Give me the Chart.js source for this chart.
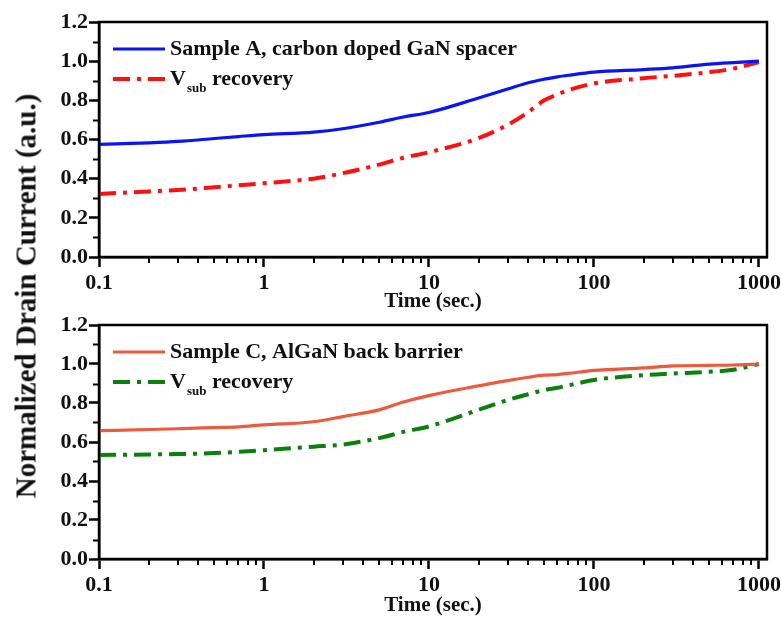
<!DOCTYPE html>
<html><head><meta charset="utf-8">
<script src="https://cdn.jsdelivr.net/npm/chart.js@4/dist/chart.umd.min.js"></script>
<style>
html,body{margin:0;padding:0;background:#fff;}
#wrap{position:relative;width:781px;height:619px;background:#fff;overflow:hidden;}
canvas{position:absolute;left:0;}
#ytitle{position:absolute;left:26px;top:296px;transform:translate(-50%,-50%) rotate(-90deg);font:bold 29px "Liberation Serif",serif;white-space:nowrap;color:#111;}
</style></head><body>
<div id="wrap">
<canvas id="c1" width="781" height="312" style="top:0"></canvas>
<canvas id="c2" width="781" height="307" style="top:312px"></canvas>
<div id="ytitle">Normalized Drain Current (a.u.)</div>
</div>
<script>
// ---- data ----
const time     = [0.1, 0.2, 0.3, 0.5, 0.7, 1, 2, 3, 5, 7, 10, 20, 30, 40, 50, 60, 70, 100, 200, 300, 500, 700, 1000];
const sampleA  = [0.575,0.583,0.590,0.605,0.615,0.625,0.638,0.655,0.688,0.715,0.738,0.812,0.858,0.890,0.908,0.920,0.928,0.944,0.957,0.966,0.985,0.993,1.000];
const vsubA    = [0.322,0.335,0.342,0.356,0.366,0.377,0.400,0.428,0.472,0.507,0.535,0.607,0.675,0.740,0.800,0.830,0.852,0.886,0.913,0.925,0.944,0.962,0.995];
const sampleC  = [0.658,0.664,0.668,0.674,0.678,0.688,0.704,0.730,0.765,0.805,0.838,0.888,0.915,0.932,0.943,0.946,0.952,0.967,0.980,0.990,0.993,0.995,1.000];
const vsubC    = [0.533,0.536,0.538,0.543,0.550,0.558,0.576,0.587,0.620,0.652,0.680,0.765,0.815,0.845,0.866,0.878,0.890,0.918,0.943,0.951,0.960,0.970,1.000];
const xMajorTicks = [0.1, 1, 10, 100, 1000];
const xTickLabels = ['0.1', '1', '10', '100', '1000'];
const yTickLabels = ['0.0', '0.2', '0.4', '0.6', '0.8', '1.0', '1.2'];
const namesTop    = ['Sample A, carbon doped GaN spacer', 'V_sub recovery'];
const namesBottom = ['Sample C, AlGaN back barrier', 'V_sub recovery'];
const xTitle = 'Time (sec.)';

const FONT = '"Liberation Serif", "Times New Roman", serif';

const pts = arr => arr.map((v, i) => ({x: time[i], y: v}));

const framePlugin = {
  id: 'frameLegend',
  afterDraw(chart) {
    const {ctx, chartArea: a, scales: {x, y}} = chart;
    ctx.save();
    ctx.strokeStyle = '#000';
    ctx.lineWidth = 2.5;
    ctx.strokeRect(a.left, a.top, a.right - a.left, a.bottom - a.top);
    // minor ticks
    ctx.lineWidth = 2;
    ctx.beginPath();
    for (let k = 1; k < 12; k += 2) {
      const py = Math.round(y.getPixelForValue(k / 10)) + 0.5;
      ctx.moveTo(a.left, py); ctx.lineTo(a.left - 6, py);
    }
    for (const d of [0.1, 1, 10, 100]) {
      for (let m = 2; m <= 9; m++) {
        const px = Math.round(x.getPixelForValue(d * m));
        ctx.moveTo(px, a.bottom); ctx.lineTo(px, a.bottom + 6);
      }
    }
    ctx.stroke();
    // legend
    const names = chart.options.plugins.customLegend.names;
    chart.data.datasets.forEach((ds, i) => {
      const ly = a.top + 27 + i * 30;
      ctx.save();
      ctx.strokeStyle = ds.borderColor;
      ctx.lineWidth = ds.borderWidth;
      ctx.setLineDash(ds.borderDash || []);
      ctx.beginPath();
      ctx.moveTo(a.left + 14, ly); ctx.lineTo(a.left + 66, ly);
      ctx.stroke();
      ctx.restore();
      ctx.fillStyle = '#111';
      ctx.textBaseline = 'middle';
      ctx.textAlign = 'left';
      let tx = a.left + 71;
      const name = names[i];
      const m = name.match(/^(.*?)_(\S+)(.*)$/);
      ctx.font = 'bold 22px ' + FONT;
      if (m) {
        ctx.fillText(m[1], tx, ly); tx += ctx.measureText(m[1]).width + 1;
        ctx.font = 'bold 13px ' + FONT;
        ctx.fillText(m[2], tx, ly + 10); tx += ctx.measureText(m[2]).width;
        ctx.font = 'bold 22px ' + FONT;
        ctx.fillText(m[3], tx, ly);
      } else {
        ctx.fillText(name, tx, ly);
      }
    });
    ctx.restore();
  }
};

function makeChart(id, dsList, names, padTop, padBottom, xHeight) {
  return new Chart(document.getElementById(id), {
    type: 'line',
    data: { datasets: dsList },
    options: {
      responsive: false, animation: false, devicePixelRatio: 1,
      layout: { padding: { left: 0, right: 14, top: padTop, bottom: padBottom } },
      plugins: { legend: { display: false }, tooltip: { enabled: false }, customLegend: { names } },
      elements: { point: { radius: 0 }, line: { cubicInterpolationMode: 'monotone' } },
      scales: {
        x: {
          type: 'logarithmic', min: 0.1, max: 1120,
          afterBuildTicks: s => { s.ticks = xMajorTicks.map(v => ({value: v, major: true})); },
          afterFit: s => { s.height = xHeight; s.paddingLeft = 0; s.paddingRight = 0; },
          ticks: {
            autoSkip: false, maxRotation: 0, minRotation: 0, padding: 5, color: '#111',
            font: { family: FONT, size: 22, weight: 'bold', lineHeight: 1 },
            callback: (v, i) => xTickLabels[i]
          },
          grid: { drawOnChartArea: false, drawTicks: true, tickLength: 10, tickColor: '#000', tickWidth: 2.5 },
          border: { display: true, color: '#000', width: 2.5 },
          title: { display: true, text: xTitle, color: '#111', padding: 0,
                   font: { family: FONT, size: 21, weight: 'bold', lineHeight: 1 } }
        },
        y: {
          type: 'linear', min: 0, max: 1.2,
          afterBuildTicks: s => { s.ticks = yTickLabels.map(t => ({value: parseFloat(t)})); },
          afterFit: s => { s.width = 99; s.paddingTop = 0; s.paddingBottom = 0; },
          ticks: {
            padding: 1, color: '#111',
            font: { family: FONT, size: 22, weight: 'bold', lineHeight: 1 },
            callback: (v, i) => yTickLabels[i]
          },
          grid: { drawOnChartArea: false, drawTicks: true, tickLength: 10, tickColor: '#000', tickWidth: 2.5 },
          border: { display: true, color: '#000', width: 2.5 }
        }
      }
    },
    plugins: [framePlugin]
  });
}

makeChart('c1', [
  { label: namesTop[0], data: pts(sampleA), borderColor: '#0a14f5', borderWidth: 3.2, fill: false },
  { label: namesTop[1], data: pts(vsubA), borderColor: '#ff1010', borderWidth: 4, borderDash: [17, 7, 4, 7], fill: false }
], namesTop, 22, 0, 55);

makeChart('c2', [
  { label: namesBottom[0], data: pts(sampleC), borderColor: '#ee5a3e', borderWidth: 3.2, fill: false },
  { label: namesBottom[1], data: pts(vsubC), borderColor: '#0c800c', borderWidth: 4, borderDash: [17, 7, 4, 7], fill: false }
], namesBottom, 13, 3, 57);
</script>
</body></html>
